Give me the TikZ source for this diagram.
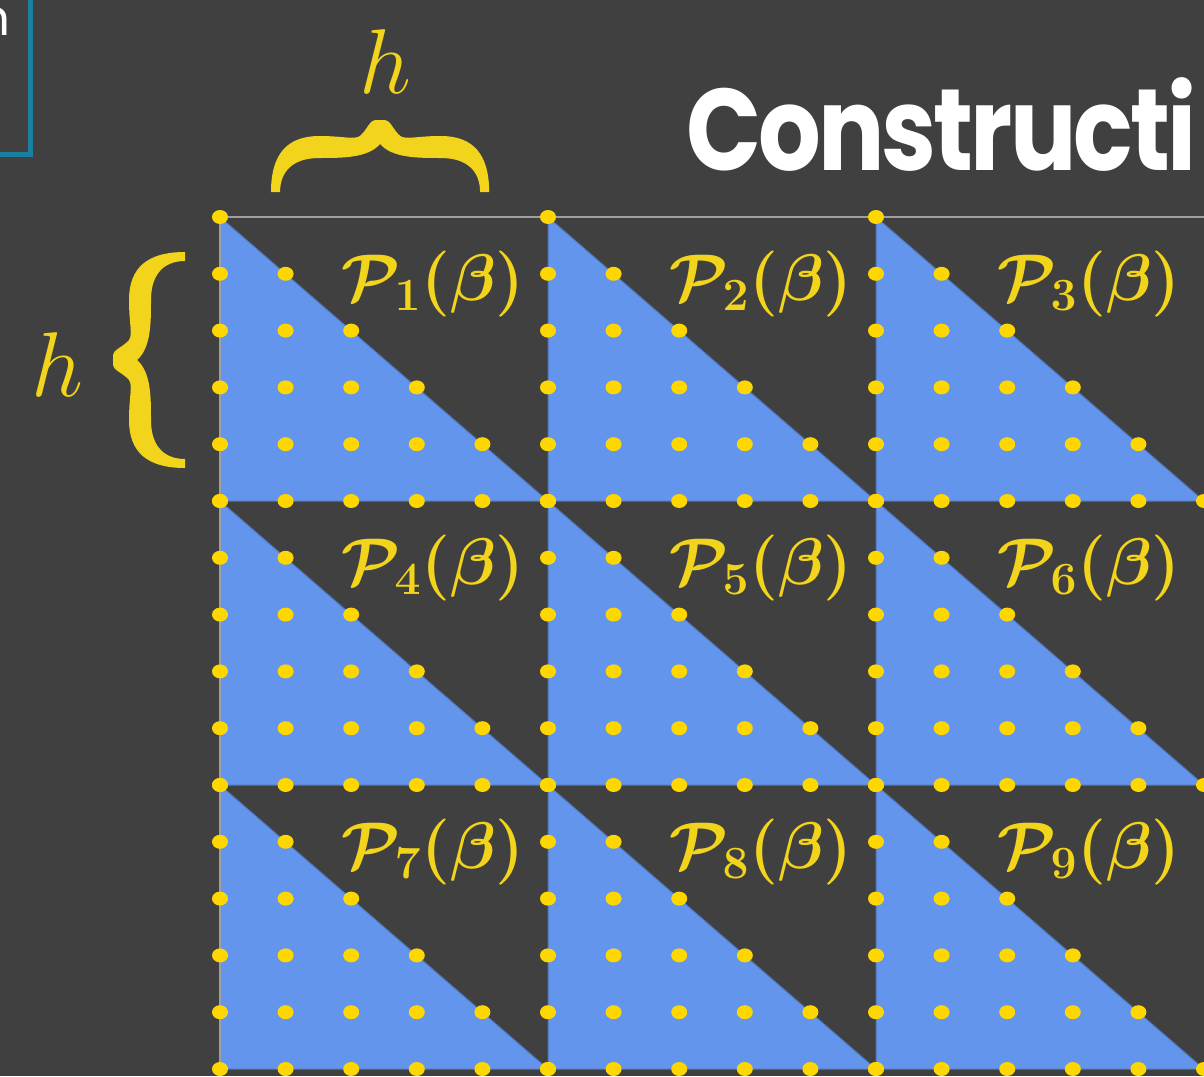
\documentclass[tikz,border=0pt]{standalone}
\usepackage{fix-cm}
\usepackage{fontspec}
\newfontfamily\titlefont{Poppins}[LetterSpace=-3]
\usepackage{amsmath,bm}
\usepackage{tikz}
\usetikzlibrary{calc}
\definecolor{SlideBg}{RGB}{64,64,64}
\definecolor{CellBlue}{RGB}{100,149,237}
\definecolor{EdgeBlue}{RGB}{78,118,182}
\definecolor{DotGold}{RGB}{255,215,0}
\definecolor{LabelGold}{RGB}{242,212,28}
\definecolor{BoxTeal}{RGB}{27,127,160}
% brace outline, u along the brace (0..216), v towards the tip (0..72)
\newcommand{\braceoutline}{(0,0) .. controls (0,38) and (16,56) .. (48,56)
  .. controls (72,56) and (82,52) .. (88,56) .. controls (95,62) and (98,72) .. (103,72)
  -- (113,72) .. controls (118,72) and (121,62) .. (128,56)
  .. controls (134,52) and (144,56) .. (168,56) .. controls (200,56) and (216,38) .. (216,0)
  -- (207,0) .. controls (207,20) and (195,34) .. (168,34)
  .. controls (145,34) and (120,34) .. (108,48)
  .. controls (96,34) and (71,34) .. (48,34)
  .. controls (21,34) and (9,20) .. (9,0) -- cycle}

\begin{document}
\begin{tikzpicture}[x=1pt,y=-1pt,
  tri/.style={fill=CellBlue,draw=EdgeBlue,line width=1pt},
  dot/.style={fill=DotGold},
  lbl/.style={text=LabelGold,inner sep=0pt,font=\fontsize{66}{72}\selectfont\boldmath},
  hlbl/.style={text=LabelGold,inner sep=0pt,font=\fontsize{92}{100}\selectfont},
  brc/.style={fill=LabelGold}
]
  \useasboundingbox (0,0) rectangle (1204,1076);
  \fill[SlideBg] (0,0) rectangle (1204,1076);

  % partly hidden box at top left
  \coordinate (bxa) at (-10,154.5);
  \coordinate (bxb) at (30.5,154.5);
  \coordinate (bxc) at (30.5,-10);
  \draw[BoxTeal,line width=5pt] (bxa) -- (bxb) -- (bxc);
  \node[anchor=base east,inner sep=0pt,text=white,font=\titlefont\fontsize{50}{50}\selectfont] (boxtxt) at (11,35) {n};

  % title
  \node[anchor=base west,inner sep=0pt,xscale=0.85,text=white,font=\titlefont\bfseries\fontsize{116}{130}\selectfont] (ttl) at (686,170) {Constructi};

  % cells
  \foreach \c in {0,1,2}
    \foreach \r in {0,1,2} {
      \coordinate (c\c\r) at ({220+328*\c},{217+284*\r});
      \fill[tri] (c\c\r) -- ++(0,284) -- ++(328,0) -- cycle;
    }

  % grid edges
  \coordinate (gtr) at (1204,217);
  \coordinate (gbl) at (220,1068);
  \draw[gray!75,line width=1.5pt] (gbl) -- (c00) -- (gtr);

  % lattice points
  \foreach \c in {0,1,2}
    \foreach \r in {0,1,2}
      \foreach \i in {0,...,5}
        \foreach \j in {0,...,\i}
          \fill[dot] ({220+328*\c+65.6*\j},{217+284*\r+56.8*\i}) ellipse [x radius=8pt,y radius=7pt];

  % labels
  \foreach \c in {0,1,2}
    \foreach \r in {0,1,2} {
      \pgfmathtruncatemacro{\k}{3*\r+\c+1}
      \node[lbl] (p\k) at ({433+328*\c},{284+284*\r}) {$\mathcal{P}_{\k}(\beta)$};
    }

  % braces
  \begin{scope}[shift={(271,192)},x={(1.01pt,0pt)},y={(0pt,1pt)}]
    \fill[brc] \braceoutline;
  \end{scope}
  \node[hlbl] (htop) at (385,62) {$h$};
  \begin{scope}[shift={(185,252)},x={(0pt,-1pt)},y={(-1pt,0pt)}]
    \fill[brc] \braceoutline;
  \end{scope}
  \node[hlbl] (hleft) at (57,365) {$h$};
\end{tikzpicture}
\end{document}
